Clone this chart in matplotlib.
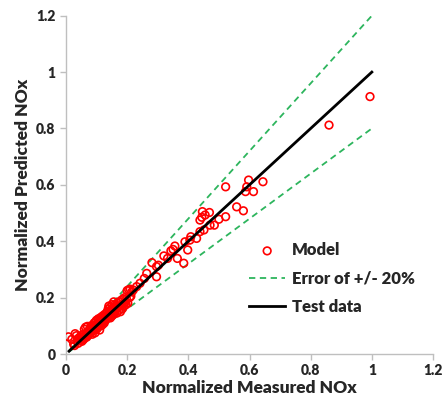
import matplotlib
matplotlib.use("Agg")
import matplotlib.pyplot as plt
import numpy as np

plt.rcParams['font.family'] = ['Lato', 'DejaVu Sans']
W = 'heavy'
plt.rcParams['font.weight'] = W

# Model scatter points (normalized measured, normalized predicted)
measured = [
    0.008, 0.019, 0.030, 0.034, 0.036, 0.040, 0.045, 0.048, 0.050, 0.052, 0.055, 0.058,
    0.060, 0.062, 0.064, 0.066, 0.068, 0.070, 0.072, 0.074, 0.076, 0.078, 0.080, 0.082,
    0.084, 0.086, 0.088, 0.090, 0.092, 0.094, 0.095, 0.097, 0.098, 0.100, 0.100, 0.102,
    0.104, 0.106, 0.108, 0.110, 0.110, 0.112, 0.114, 0.116, 0.118, 0.120, 0.120, 0.122,
    0.124, 0.126, 0.128, 0.130, 0.132, 0.134, 0.136, 0.138, 0.140, 0.140, 0.142, 0.144,
    0.146, 0.148, 0.150, 0.150, 0.152, 0.154, 0.156, 0.158, 0.160, 0.160, 0.162, 0.164,
    0.166, 0.168, 0.170, 0.172, 0.174, 0.176, 0.178, 0.180, 0.182, 0.184, 0.186, 0.188,
    0.190, 0.192, 0.194, 0.196, 0.198, 0.200, 0.202, 0.205, 0.208, 0.210, 0.212, 0.215,
    0.025, 0.028, 0.040, 0.046, 0.056, 0.060, 0.070, 0.085, 0.095, 0.105, 0.115, 0.125,
    0.135, 0.145, 0.155,
    0.220, 0.231, 0.242, 0.256, 0.264, 0.281, 0.296, 0.302, 0.296, 0.320, 0.332, 0.343,
    0.350, 0.356, 0.364, 0.385, 0.398, 0.389, 0.405, 0.408, 0.427, 0.438, 0.451, 0.444,
    0.455, 0.438, 0.446, 0.469, 0.471, 0.485, 0.500, 0.522, 0.522, 0.558, 0.580, 0.591,
    0.587, 0.613, 0.597, 0.644, 0.860, 0.994,
]
predicted = [
    0.061, 0.052, 0.072, 0.065, 0.045, 0.055, 0.060, 0.050, 0.066, 0.045, 0.058, 0.070,
    0.088, 0.062, 0.095, 0.072, 0.060, 0.098, 0.080, 0.068, 0.085, 0.075, 0.090, 0.100,
    0.078, 0.070, 0.095, 0.085, 0.110, 0.100, 0.088, 0.115, 0.095, 0.105, 0.120, 0.090,
    0.112, 0.125, 0.100, 0.118, 0.085, 0.108, 0.130, 0.115, 0.122, 0.105, 0.135, 0.118,
    0.128, 0.140, 0.120, 0.132, 0.145, 0.125, 0.138, 0.160, 0.170, 0.130, 0.150, 0.165,
    0.140, 0.155, 0.175, 0.135, 0.160, 0.148, 0.185, 0.165, 0.150, 0.175, 0.160, 0.170,
    0.145, 0.180, 0.165, 0.155, 0.185, 0.170, 0.150, 0.190, 0.175, 0.160, 0.195, 0.180,
    0.170, 0.200, 0.185, 0.175, 0.195, 0.225, 0.180, 0.228, 0.200, 0.230, 0.205, 0.220,
    0.035, 0.030, 0.038, 0.048, 0.050, 0.055, 0.065, 0.082, 0.075, 0.098, 0.100, 0.110,
    0.150, 0.128, 0.140,
    0.227, 0.239, 0.251, 0.268, 0.286, 0.324, 0.310, 0.315, 0.274, 0.348, 0.339, 0.366,
    0.371, 0.383, 0.339, 0.322, 0.369, 0.398, 0.404, 0.416, 0.410, 0.434, 0.440, 0.485,
    0.493, 0.475, 0.505, 0.502, 0.457, 0.457, 0.478, 0.487, 0.593, 0.522, 0.508, 0.593,
    0.576, 0.576, 0.617, 0.611, 0.812, 0.913,
]

# Reference lines
line_x = [0.01, 1.0]
test_y = [0.01, 1.0]
upper_y = [0.012, 1.2]
lower_y = [0.008, 0.8]

ticks = [0, 0.2, 0.4, 0.6, 0.8, 1.0, 1.2]
tick_labels = ['0', '0.2', '0.4', '0.6', '0.8', '1', '1.2']

fig = plt.figure(figsize=(4.44, 4.07), dpi=100)
ax = fig.add_axes([66/444, 53/407, (433-66)/444, (354-15.7)/407])

ax.scatter(measured, predicted, s=30, facecolors='none', edgecolors='#ff0000',
           linewidths=1.2, label='Model', zorder=3)
ax.plot(line_x, upper_y, color='#2db55d', lw=1.3, ls=(0, (3.5, 2.5)),
        label='Error of +/- 20%', zorder=2)
ax.plot(line_x, lower_y, color='#2db55d', lw=1.3, ls=(0, (3.5, 2.5)), zorder=2)
ax.plot(line_x, test_y, color='black', lw=2.0, label='Test data', zorder=4)

ax.set_xlim(0, 1.2)
ax.set_ylim(0, 1.2)
ax.set_xticks(ticks)
ax.set_xticklabels(tick_labels)
ax.set_yticks(ticks)
ax.set_yticklabels(tick_labels)
for s in ['top', 'right']:
    ax.spines[s].set_visible(False)
for s in ['left', 'bottom']:
    ax.spines[s].set_color('#bfbfbf')
    ax.spines[s].set_linewidth(1.0)
ax.tick_params(axis='both', colors='#bfbfbf', labelcolor='#262626', labelsize=10,
               length=4, width=1.0, direction='out')
for lab in ax.get_xticklabels() + ax.get_yticklabels():
    lab.set_fontweight(W)

ax.set_xlabel('Normalized Measured NOx', fontsize=12.5, fontweight=W,
              color='#262626', labelpad=2)
ax.set_ylabel('Normalized Predicted NOx', fontsize=12.5, fontweight=W,
              color='#262626', labelpad=4)

leg = ax.legend(loc='upper left', bbox_to_anchor=(0.48, 0.35), frameon=False,
                fontsize=12, handlelength=2.2, handletextpad=0.4,
                labelspacing=0.75, scatterpoints=1, borderaxespad=0)
for t in leg.get_texts():
    t.set_color('#262626')
    t.set_fontweight(W)

fig.savefig('out.png', dpi=100)
